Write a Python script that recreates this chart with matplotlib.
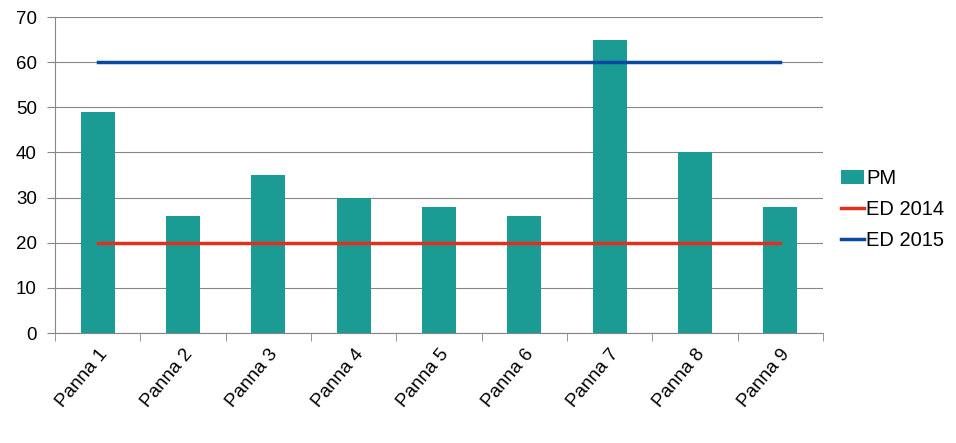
import matplotlib
matplotlib.use("Agg")
import matplotlib.pyplot as plt
import numpy as np

categories=["Panna %d"%i for i in range(1,10)]
pm=[49,26,35,30,28,26,65,40,28]
ed2014=[20]*9
ed2015=[60]*9

plt.rcParams['font.family']=['Liberation Sans','DejaVu Sans']
fig=plt.figure(figsize=(9.56,4.43),dpi=100)
ax=fig.add_axes([55/956,1-333/443,(823-55)/956,(333-17)/443])
x=np.arange(len(categories))
grid="#868686"
bars=ax.bar(x,pm,width=0.4,color="#1a9c94",label="PM",zorder=2)
l1,=ax.plot(x,ed2014,color="#e0301e",lw=2.5,label="ED 2014",zorder=3)
l2,=ax.plot(x,ed2015,color="#0a47a0",lw=2.5,label="ED 2015",zorder=3)
ax.set_xlim(-0.5,len(categories)-0.5)
ax.set_ylim(0,70)
ax.set_yticks(range(0,71,10))
ax.yaxis.grid(True,color=grid,lw=0.8,zorder=0)
ax.set_xticks(x)
ax.set_xticklabels(categories,rotation=50,ha="right",rotation_mode="anchor",fontsize=13.5)
ax.tick_params(axis="x",length=0,pad=9)
ax.set_xticks(np.arange(-0.5,len(categories)),minor=True)
ax.tick_params(axis="x",which="minor",length=6,color=grid,direction="out")
ax.tick_params(axis="y",length=6,color=grid,labelsize=13.5,pad=7)
for s in ["top","right"]:
	ax.spines[s].set_visible(False)
for s in ["left","bottom"]:
	ax.spines[s].set_color(grid)
leg=ax.legend(handles=[bars,l1,l2],loc="center left",bbox_to_anchor=(1.0,0.39),frameon=False,fontsize=14.5,handlelength=1.15,handletextpad=0.1,labelspacing=0.6)
fig.savefig("out.png",dpi=100)
